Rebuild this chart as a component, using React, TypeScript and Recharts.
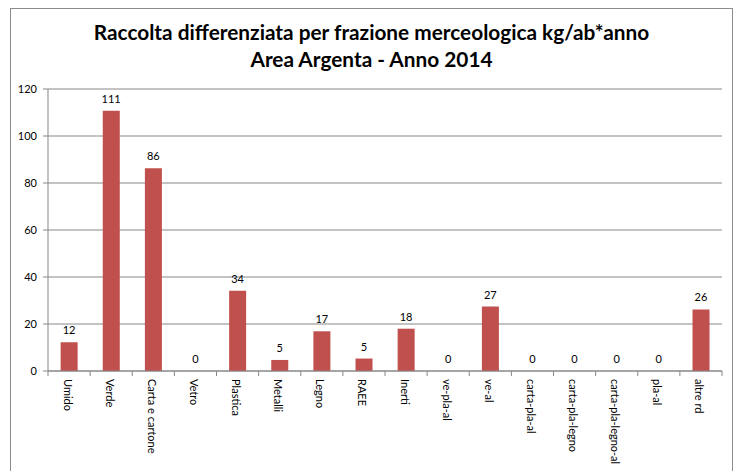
import React from 'react';
import { ComposedChart, Bar, Line, XAxis, YAxis, CartesianGrid, LabelList } from 'recharts';

const categories = [
  'Umido',
  'Verde',
  'Carta e cartone',
  'Vetro',
  'Plastica',
  'Metalli',
  'Legno',
  'RAEE',
  'Inerti',
  've-pla-al',
  've-al',
  'carta-pla-al',
  'carta-pla-legno',
  'carta-pla-legno-al',
  'pla-al',
  'altre rd',
];
const kgPerInhabitant = [12.2, 110.7, 86.3, 0, 34.2, 4.7, 16.9, 5.3, 18.0, 0, 27.4, 0, 0, 0, 0, 26.2];
const yTicks = [0, 20, 40, 60, 80, 100, 120];

const titleLines = ['Raccolta differenziata per frazione merceologica kg/ab*anno', 'Area Argenta - Anno 2014'];

const data = categories.map((name, i) => ({ name, value: kgPerInhabitant[i] }));

const FONT = "'Lato', 'Open Sans', sans-serif";
const GRID = '#878787';
// plot spans 48..722 px, one band per category
const BAND = (722 - 48) / categories.length;

function RotatedTick(props: any) {
  const { x, y, payload, index } = props;
  const half = BAND / 2;
  const axisY = y - 8;
  return (
    <g>
      <line x1={x - half} y1={axisY} x2={x - half} y2={axisY + 5} stroke={GRID} />
      {index === categories.length - 1 && (
        <line x1={x + half} y1={axisY} x2={x + half} y2={axisY + 5} stroke={GRID} />
      )}
      <text
        x={0}
        y={0}
        transform={`translate(${x - 1},${y}) rotate(90)`}
        textAnchor="start"
        dominantBaseline="central"
        fontSize={11}
        fontFamily={FONT}
        fill="#000"
      >
        {payload.value}
      </text>
    </g>
  );
}

export default function App() {
  return (
    <div style={{ position: 'absolute', left: 0, top: 0, width: 735, height: 471, background: '#fff', overflow: 'hidden' }}>
      <div
        style={{
          position: 'absolute',
          left: 10,
          top: 8,
          width: 723,
          height: 470,
          border: '1px solid #8c8c8c',
          boxSizing: 'border-box',
        }}
      />
      <div
        style={{
          position: 'absolute',
          left: 10,
          top: 18,
          width: 723,
          textAlign: 'center',
          fontFamily: FONT,
          fontWeight: 700,
          fontSize: 20.8,
          lineHeight: '27px',
          color: '#000',
        }}
      >
        {titleLines.map((t) => (
          <div key={t}>{t}</div>
        ))}
      </div>
      <div style={{ position: 'absolute', left: 0, top: 0 }}>
        <ComposedChart width={735} height={471} data={data} margin={{ top: 89, right: 13, left: 0, bottom: 0 }} barCategoryGap="30%">
          <CartesianGrid vertical={false} stroke={GRID} strokeWidth={1} />
          <XAxis
            dataKey="name"
            interval={0}
            height={100}
            tick={<RotatedTick />}
            axisLine={{ stroke: GRID }}
            tickLine={false}
          />
          <YAxis
            domain={[0, 120]}
            ticks={yTicks}
            width={48}
            tick={{ fontSize: 11, fontFamily: FONT, fill: '#000' }}
            axisLine={{ stroke: GRID }}
            tickLine={{ stroke: GRID }}
            tickSize={5}
            tickMargin={6}
          />
          <Bar dataKey="value" fill="#C0504D" isAnimationActive={false} />
          <Line dataKey="value" stroke="none" dot={false} activeDot={false} isAnimationActive={false}>
            <LabelList
              dataKey="value"
              position="top"
              offset={8}
              formatter={(v: any) => String(Math.round(Number(v)))}
              style={{ fontSize: 11, fontFamily: FONT, fill: '#000' }}
            />
          </Line>
        </ComposedChart>
      </div>
    </div>
  );
}
